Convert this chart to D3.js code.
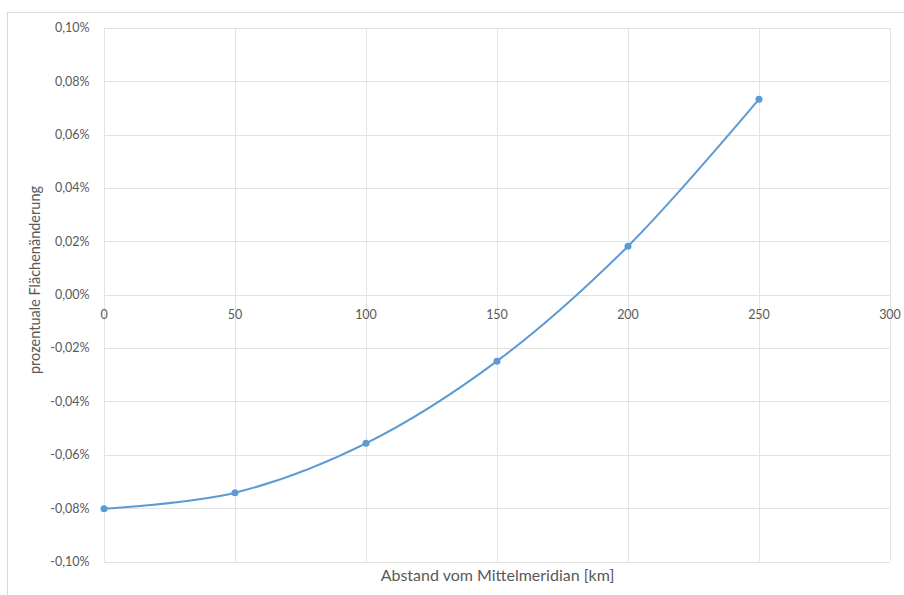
<!DOCTYPE html>
<html>
<head>
<meta charset="utf-8">
<script src="https://cdn.jsdelivr.net/npm/d3@7"></script>
<style>
  html, body { margin: 0; padding: 0; background: #fff; }
  svg { display: block; }
  text { font-family: Lato, "Open Sans", sans-serif; fill: #595959; }
</style>
</head>
<body>
<svg id="chart" width="904" height="595"></svg>
<script>
// Data
const distances = [0, 50, 100, 150, 200, 250];          // km
const changes = [-0.0802, -0.0742, -0.0557, -0.0249, 0.0182, 0.0733]; // percent
const xTicks = [0, 50, 100, 150, 200, 250, 300];
const yTicks = [-0.10, -0.08, -0.06, -0.04, -0.02, 0.00, 0.02, 0.04, 0.06, 0.08, 0.10];
const xTitle = "Abstand vom Mittelmeridian [km]";
const yTitle = "prozentuale Flächenänderung";

const svg = d3.select("#chart");
const W = 904, H = 595;
const plot = { left: 104, right: 890, top: 28, bottom: 561.5 };

// outer chart border
svg.append("rect")
  .attr("x", 7.5).attr("y", 12.5)
  .attr("width", W).attr("height", H)
  .attr("fill", "none").attr("stroke", "#d9d9d9").attr("stroke-width", 1);

const x = d3.scaleLinear().domain([0, 300]).range([plot.left, plot.right]);
const y = d3.scaleLinear().domain([-0.10, 0.10]).range([plot.bottom, plot.top]);

// gridlines
const grid = svg.append("g");
grid.selectAll("line.h").data(yTicks).join("line")
  .attr("x1", plot.left).attr("x2", plot.right)
  .attr("y1", d => Math.round(y(d)) + 0.5).attr("y2", d => Math.round(y(d)) + 0.5)
  .attr("stroke", "#e3e3e3").attr("stroke-width", 1);
grid.selectAll("line.v").data(xTicks).join("line")
  .attr("y1", plot.top).attr("y2", plot.bottom)
  .attr("x1", d => Math.round(x(d)) + 0.5).attr("x2", d => Math.round(x(d)) + 0.5)
  .attr("stroke", "#e3e3e3").attr("stroke-width", 1);

// y tick labels
const fmtY = d => d3.format(".2f")(d).replace("−", "-").replace(".", ",") + "%";
svg.append("g").selectAll("text").data(yTicks).join("text")
  .attr("x", 89.5).attr("y", d => y(d)).attr("dy", "0.35em")
  .attr("text-anchor", "end").attr("font-size", 12.5)
  .text(d => fmtY(Math.abs(d) < 1e-9 ? 0 : d));

// x tick labels (next to zero line)
svg.append("g").selectAll("text").data(xTicks).join("text")
  .attr("x", d => x(d)).attr("y", y(0) + 19.5).attr("dy", "0.35em")
  .attr("text-anchor", "middle").attr("font-size", 12.5)
  .text(d => d);

// titles
svg.append("text")
  .attr("x", 497.5).attr("y", 575.5).attr("dy", "0.35em")
  .attr("text-anchor", "middle").attr("font-size", 16)
  .text(xTitle);
svg.append("text")
  .attr("transform", `translate(35,280) rotate(-90)`)
  .attr("dy", "0.35em")
  .attr("text-anchor", "middle").attr("font-size", 14.5)
  .text(yTitle);

// line
const pts = distances.map((d, i) => [d, changes[i]]);
const line = d3.line().x(d => x(d[0])).y(d => y(d[1])).curve(d3.curveCatmullRom.alpha(0.5));
svg.append("path").datum(pts)
  .attr("d", line).attr("fill", "none")
  .attr("stroke", "#5b9bd5").attr("stroke-width", 2).attr("stroke-linejoin", "round");

svg.append("g").selectAll("circle").data(pts).join("circle")
  .attr("cx", d => x(d[0])).attr("cy", d => y(d[1])).attr("r", 3.5)
  .attr("fill", "#5b9bd5");
</script>
</body>
</html>
